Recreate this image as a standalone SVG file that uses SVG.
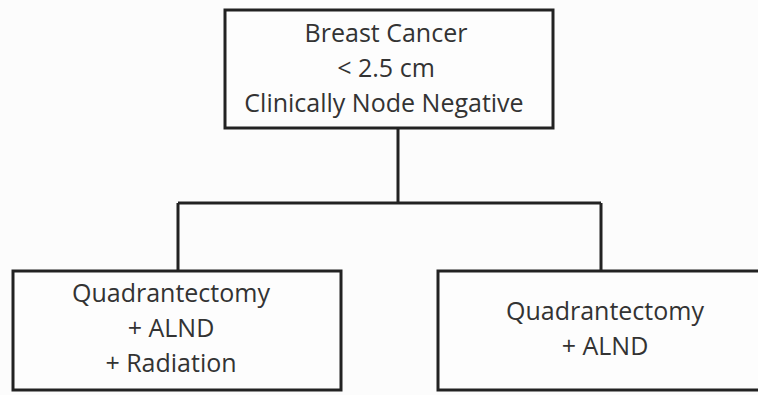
<svg xmlns="http://www.w3.org/2000/svg" width="758" height="395" viewBox="0 0 758 395">
<style>
.box{fill:#fdfdfd;stroke:#222;stroke-width:3}
.t{font-family:"Open Sans","Liberation Sans",sans-serif;font-size:25px;fill:#333;text-anchor:middle}
.c{fill:none;stroke:#222;stroke-width:3}
</style>
<rect width="758" height="395" fill="#fcfcfc"/>
<g id="connectors">
<path class="c" d="M398 128 V203 M178 203 H601 M178 203 V271 M601 203 V271"/>
</g>
<g id="root">
<rect class="box" x="225" y="10" width="328" height="118"/>
<text class="t" x="386" y="42">Breast Cancer</text>
<text class="t" x="386" y="77">&lt; 2.5 cm</text>
<text class="t" x="384" y="112">Clinically Node Negative</text>
</g>
<g id="left">
<rect class="box" x="13" y="271" width="328" height="119"/>
<text class="t" x="171" y="302">Quadrantectomy</text>
<text class="t" x="171" y="337">+ ALND</text>
<text class="t" x="171" y="372">+ Radiation</text>
</g>
<g id="right">
<rect class="box" x="438" y="271" width="340" height="119"/>
<text class="t" x="605" y="320">Quadrantectomy</text>
<text class="t" x="605" y="355">+ ALND</text>
</g>
</svg>
